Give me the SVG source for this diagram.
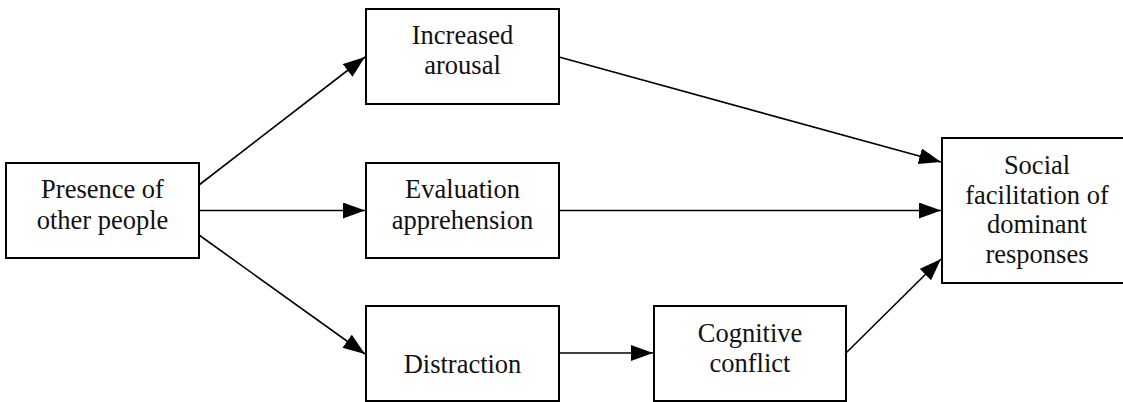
<svg xmlns="http://www.w3.org/2000/svg" width="1123" height="402" viewBox="0 0 1123 402">
<style>
.box{fill:#fff;stroke:#000;stroke-width:2}
.lbl{font-family:"Liberation Serif","Times New Roman",serif;font-size:26.5px;fill:#111;text-anchor:middle}
.edge{stroke:#000;stroke-width:1.6;fill:none;marker-end:url(#ah)}
</style>
<defs>
<marker id="ah" markerUnits="userSpaceOnUse" markerWidth="24" markerHeight="18" refX="22" refY="8" orient="auto">
<path d="M0,0 L22,8 L0,16 Z" fill="#000"/>
</marker>
</defs>
<rect width="1123" height="402" fill="#fff"/>
<g id="connectors">
<line class="edge" x1="199" y1="185" x2="365" y2="57"/>
<line class="edge" x1="199" y1="210.5" x2="365" y2="210.5"/>
<line class="edge" x1="199" y1="235" x2="365" y2="354"/>
<line class="edge" x1="559" y1="57" x2="941" y2="162"/>
<line class="edge" x1="559" y1="210.5" x2="941" y2="210.5"/>
<line class="edge" x1="559" y1="353" x2="653" y2="353"/>
<line class="edge" x1="846" y1="353" x2="941" y2="259"/>
</g>
<g id="presence">
<rect class="box" x="6" y="163" width="193" height="95"/>
<text class="lbl" x="102.5" y="198">Presence of</text>
<text class="lbl" x="102.5" y="229">other people</text>
</g>
<g id="arousal">
<rect class="box" x="366" y="9" width="193" height="95"/>
<text class="lbl" x="462.5" y="44">Increased</text>
<text class="lbl" x="462.5" y="74">arousal</text>
</g>
<g id="evaluation">
<rect class="box" x="366" y="163" width="193" height="95"/>
<text class="lbl" x="462.5" y="198">Evaluation</text>
<text class="lbl" x="462.5" y="229">apprehension</text>
</g>
<g id="distraction">
<rect class="box" x="366" y="306" width="193" height="95"/>
<text class="lbl" x="462.5" y="372.5">Distraction</text>
</g>
<g id="conflict">
<rect class="box" x="654" y="306" width="192" height="95"/>
<text class="lbl" x="750" y="342">Cognitive</text>
<text class="lbl" x="750" y="372">conflict</text>
</g>
<g id="social">
<rect class="box" x="942" y="138" width="190" height="145"/>
<text class="lbl" x="1037" y="174">Social</text>
<text class="lbl" x="1037" y="204">facilitation of</text>
<text class="lbl" x="1037" y="233">dominant</text>
<text class="lbl" x="1037" y="263">responses</text>
</g>
</svg>
